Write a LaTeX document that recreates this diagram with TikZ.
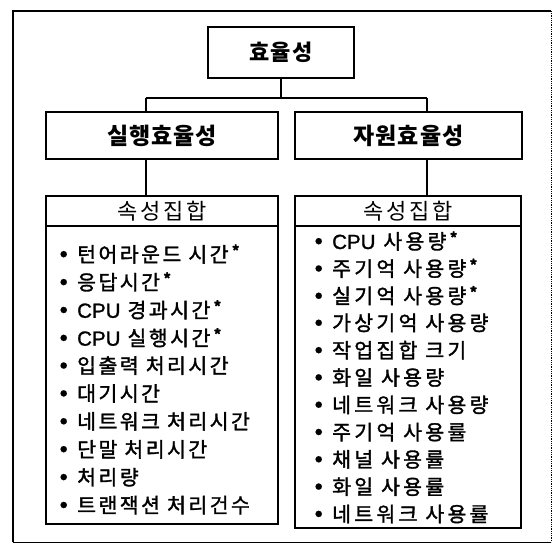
\documentclass[tikz,border=0pt]{standalone}
\usepackage{fontspec}
\setmainfont{Noto Sans CJK KR}
\newfontfamily\krsp[LetterSpace=12]{Noto Sans CJK KR}
\newfontfamily\krmid[LetterSpace=4]{Noto Sans CJK KR}
\newfontfamily\kritem[LetterSpace=12,FakeBold=1.6]{Noto Sans CJK KR}
\newfontfamily\kritemr[LetterSpace=16,FakeBold=1.6]{Noto Sans CJK KR}
\newfontfamily\latn[FakeBold=1.2]{Liberation Sans}
\newcommand\cpu{{\latn CPU}}
\newcommand\mystar{\raisebox{0.3em}{\fontsize{14}{14}\selectfont\bfseries *}}
\newcommand\bul{\makebox[17pt][l]{\raisebox{0.25em}{\fontsize{7}{7}\selectfont ●}}}
\begin{document}
\begin{tikzpicture}[x=1pt,y=-1pt,
  box/.style={draw, line width=2.8pt, rectangle, inner sep=0pt},
  conn/.style={line width=2.8pt},
  item/.style={anchor=west, inner sep=0pt, font=\kritem\fontsize{20.5}{22}\selectfont},
  itemr/.style={item, font=\kritemr\fontsize{20.5}{22}\selectfont},
]
\useasboundingbox (0,0) rectangle (553,544);
% outer frame
\draw[line width=2.8pt] (13,542) -- (13,11) -- (551,11);
\draw[line width=0.8pt, densely dotted] (551,11) -- (551,542);
\draw[line width=0.8pt] (551,542) -- (13,542);
% top
\node[box, minimum width=146pt, minimum height=51pt, font=\bfseries\krmid\fontsize{22}{24}\selectfont] (top) at (281,52.5) {효율성};
% upper boxes
\node[box, minimum width=232pt, minimum height=47pt, font=\bfseries\krmid\fontsize{23}{26}\selectfont] (L) at (162,135.5) {실행효율성};
\node[box, minimum width=227pt, minimum height=47pt, font=\bfseries\krmid\fontsize{23}{26}\selectfont] (R) at (408.5,135.5) {자원효율성};
% lower headers
\node[box, minimum width=232pt, minimum height=30pt, font=\krsp\fontsize{22}{24}\selectfont] (LH) at (162,211) {속성집합};
\node[box, minimum width=226pt, minimum height=30pt, font=\krsp\fontsize{22}{24}\selectfont] (RH) at (408,211) {속성집합};
\node[box, minimum width=232pt, minimum height=298pt] (LB) at (162,375) {};
\node[box, minimum width=226pt, minimum height=302pt] (RB) at (408,377) {};
% connectors
\coordinate (jl) at (146,98);
\coordinate (jr) at (427,98);
\draw[conn] (top.south) -- (top.south |- jl);
\draw[conn] (jl) -- (jr);
\draw[conn] (jl) -- (jl |- L.north);
\draw[conn] (jr) -- (jr |- R.north);
\draw[conn] (jl |- L.south) -- (jl |- LH.north);
\draw[conn] (jr |- R.south) -- (jr |- RH.north);
% left items
\foreach \t [count=\i] in {턴어라운드 시간\,\mystar, 응답시간\,\mystar, \cpu{} 경과시간\,\mystar, \cpu{} 실행시간\,\mystar, 입출력 처리시간, 대기시간, 네트워크 처리시간, 단말 처리시간, 처리량, 트랜잭션 처리건수}
  \node[item] (li\i) at (60,{254+27.9*(\i-1)}) {\bul\t};
% right items
\foreach \t [count=\i] in {\cpu{} 사용량\,\mystar, 주기억 사용량\,\mystar, 실기억 사용량\,\mystar, 가상기억 사용량, 작업집합 크기, 화일 사용량, 네트워크 사용량, 주기억 사용률, 채널 사용률, 화일 사용률, 네트워크 사용률}
  \node[itemr] (ri\i) at (315,{241+27.3*(\i-1)}) {\bul\t};
\end{tikzpicture}
\end{document}
